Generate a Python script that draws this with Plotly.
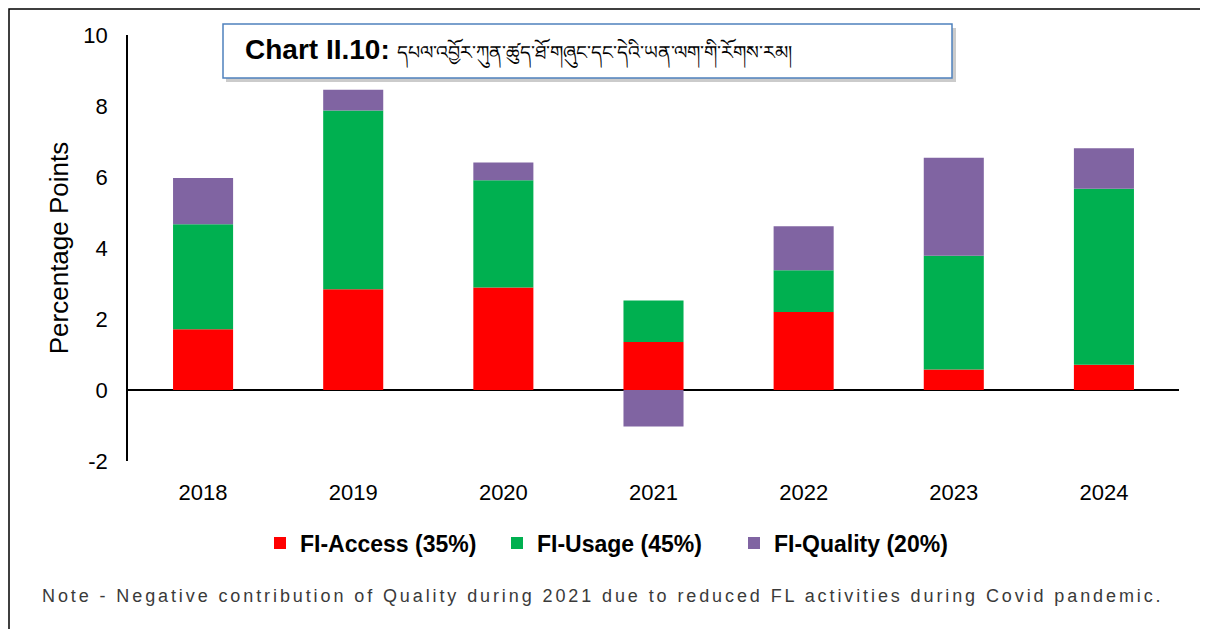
import plotly.graph_objects as go

years = ["2018", "2019", "2020", "2021", "2022", "2023", "2024"]
access = [1.71, 2.84, 2.89, 1.35, 2.20, 0.58, 0.71]
usage = [2.96, 5.03, 3.02, 1.17, 1.17, 3.20, 4.96]
quality = [1.30, 0.59, 0.50, -1.03, 1.24, 2.76, 1.14]

series_names = ["FI-Access (35%)", "FI-Usage (45%)", "FI-Quality (20%)"]
colors = ["#FF0000", "#00B050", "#8064A2"]

y_ticks = [-2, 0, 2, 4, 6, 8, 10]
y_tick_labels = ["-2", "0", "2", "4", "6", "8", "10"]

title_bold = "Chart II.10:"
title_tibetan = "དཔལ་འབྱོར་ཀུན་ཚུད་ཐོ་གཞུང་དང་དེའི་ཡན་ལག་གི་རོགས་རམ།"
note_text = "Note - Negative contribution of Quality during 2021 due to reduced FL activities during Covid pandemic."

# page body has an 8px margin, so the figure is drawn 8px smaller and offset
OFF = 8
W, H = 1200, 621
L, R, T, B = 120, 29, 27, 168
pw, ph = W - L - R, H - T - B


# page pixel -> paper coordinates (relative to plot area)
def px(x):
    return (x - OFF - L) / pw


def py(y):
    return (H - B - (y - OFF)) / ph


fig = go.Figure()
for name, vals, col in zip(series_names, [access, usage, quality], colors):
    fig.add_trace(go.Bar(x=years, y=vals, name="<b>" + name + "</b>", marker_color=col,
                         marker_line_width=0))

font = "Liberation Sans, Arial, sans-serif"

fig.update_layout(
    width=W, height=H,
    barmode="relative",
    bargap=0.6,
    plot_bgcolor="white",
    paper_bgcolor="white",
    margin=dict(l=L, r=R, t=T, b=B, autoexpand=False),
    font=dict(family=font, size=22, color="black"),
    showlegend=True,
    legend=dict(orientation="h", x=px(260), xanchor="left", y=py(543), yanchor="middle",
                font=dict(size=23, color="black"), traceorder="normal",
                itemwidth=30, entrywidth=192, entrywidthmode="pixels"),
    xaxis=dict(showline=False, showgrid=False, ticks="", zeroline=False, automargin=False,
               ticklabelstandoff=16, tickfont=dict(size=22)),
    yaxis=dict(range=[-2, 10], tickvals=y_ticks, ticktext=y_tick_labels, showgrid=False,
               showline=True, automargin=False,
               linecolor="black", linewidth=1.5, ticks="", ticklabelstandoff=14,
               zeroline=True, zerolinecolor="black", zerolinewidth=2,
               title=dict(text="Percentage Points", font=dict(size=26), standoff=7),
               tickfont=dict(size=22)),
)

# outer border
fig.add_shape(type="rect", xref="paper", yref="paper",
              x0=px(9), x1=px(1203), y0=py(640), y1=py(9),
              line=dict(color="black", width=1.5), fillcolor="rgba(0,0,0,0)", layer="below")

# title box with shadow
fig.add_shape(type="rect", xref="paper", yref="paper",
              x0=px(226), x1=px(956), y0=py(82), y1=py(28),
              line=dict(width=0), fillcolor="rgba(140,140,140,0.45)")
fig.add_shape(type="rect", xref="paper", yref="paper",
              x0=px(223), x1=px(952), y0=py(78), y1=py(24),
              line=dict(color="#4F81BD", width=1.5), fillcolor="white")
fig.add_annotation(text="<b>" + title_bold + "</b> <span style='font-size:19px'>" + title_tibetan + "</span>",
                   xref="paper", yref="paper",
                   x=px(243), y=py(51), xanchor="left", yanchor="middle",
                   showarrow=False, font=dict(size=28, color="black", family=font))

# note
fig.add_annotation(text="<span style='letter-spacing:2.9px'>" + note_text + "</span>",
                   xref="paper", yref="paper",
                   x=px(40), y=py(596), xanchor="left", yanchor="middle",
                   showarrow=False, font=dict(size=18, color="#3a3a3a"))

fig.write_html("out.html")
